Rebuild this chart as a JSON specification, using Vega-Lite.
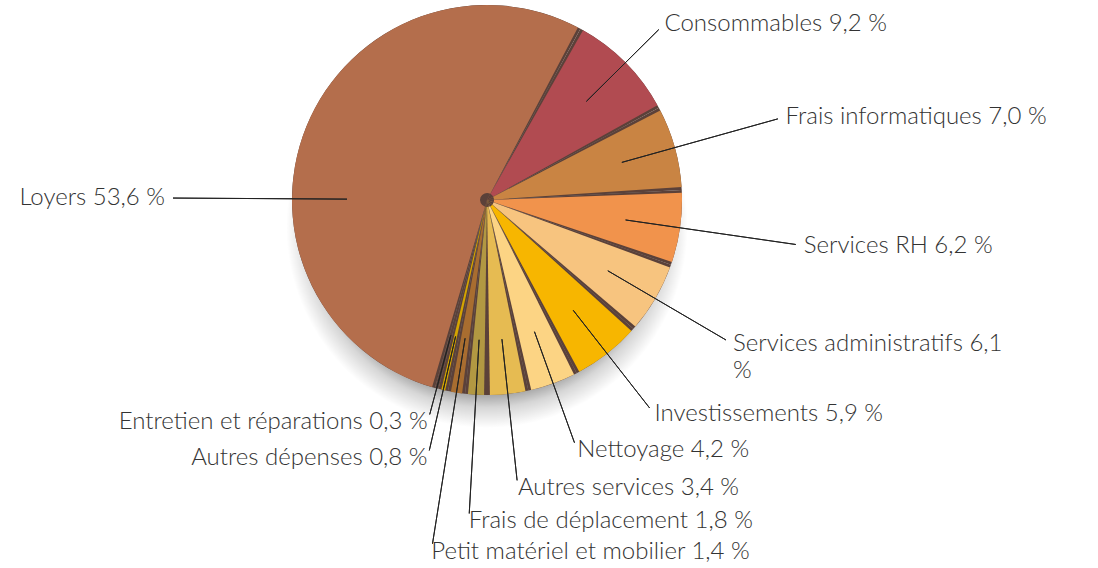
{
  "$schema": "https://vega.github.io/schema/vega-lite/v6.json",
  "width": 974,
  "height": 400,
  "autosize": "none",
  "padding": {"left": 0, "top": 0, "right": 124, "bottom": 168},
  "background": "white",
  "config": {"view": {"stroke": null}},
  "data": {
    "values": [
      {"label": "Consommables", "value": 9.2, "order": 1, "txt": "Consommables 9,2 %"},
      {"label": "Frais informatiques", "value": 7.0, "order": 2, "txt": "Frais informatiques 7,0 %"},
      {"label": "Services RH", "value": 6.2, "order": 3, "txt": "Services RH 6,2 %"},
      {"label": "Services administratifs", "value": 6.1, "order": 4, "txt": "Services administratifs 6,1\n%"},
      {"label": "Investissements", "value": 5.9, "order": 5, "txt": "Investissements 5,9 %"},
      {"label": "Nettoyage", "value": 4.2, "order": 6, "txt": "Nettoyage 4,2 %"},
      {"label": "Autres services", "value": 3.4, "order": 7, "txt": "Autres services 3,4 %"},
      {"label": "Frais de déplacement", "value": 1.8, "order": 8, "txt": "Frais de déplacement 1,8 %"},
      {"label": "Petit matériel et mobilier", "value": 1.4, "order": 9, "txt": "Petit matériel et mobilier 1,4 %"},
      {"label": "Autres dépenses", "value": 0.8, "order": 10, "txt": "Autres dépenses 0,8 %"},
      {"label": "Entretien et réparations", "value": 0.3, "order": 11, "txt": "Entretien et réparations 0,3 %"},
      {"label": "Loyers", "value": 53.6, "order": 12, "txt": "Loyers 53,6 %"}
    ]
  },
  "layer": [
    {
      "transform": [{"aggregate": [{"op": "sum", "field": "value", "as": "total"}]}],
      "mark": {
        "type": "arc", "outerRadius": 228,
        "fill": {"gradient": "radial", "x1": 0.5, "y1": 0.56, "r1": 0, "x2": 0.5, "y2": 0.56, "r2": 0.5,
          "stops": [{"offset": 0, "color": "#8a8a8a"}, {"offset": 0.7, "color": "#8a8a8a"}, {"offset": 0.79, "color": "#d6d6d6"}, {"offset": 0.88, "color": "#ffffff"}, {"offset": 1, "color": "#ffffff"}]}
      },
      "encoding": {
        "theta": {"field": "total", "type": "quantitative", "stack": true, "scale": {"range": [0.5, 6.783185], "nice": false}}
      }
    },
    {
      "mark": {"type": "arc", "outerRadius": 195, "fill": "#5b4139"},
      "encoding": {
        "theta": {"field": "value", "type": "quantitative", "stack": true, "scale": {"range": [0.5, 6.783185], "nice": false}},
        "order": {"field": "order", "type": "quantitative"}
      }
    },
    {
      "mark": {"type": "arc", "outerRadius": 195, "padAngle": 0.03},
      "encoding": {
        "theta": {"field": "value", "type": "quantitative", "stack": true},
        "order": {"field": "order", "type": "quantitative"},
        "color": {
          "field": "label", "type": "nominal", "legend": null,
          "scale": {
            "domain": ["Consommables", "Frais informatiques", "Services RH", "Services administratifs", "Investissements", "Nettoyage", "Autres services", "Frais de déplacement", "Petit matériel et mobilier", "Autres dépenses", "Entretien et réparations", "Loyers"],
            "range": ["#b14b51", "#c98443", "#f1934c", "#f7c47f", "#f7b600", "#fcd484", "#e6bb52", "#b29842", "#a86d30", "#d4a400", "#a55d3a", "#b46e4c"]
          }
        }
      }
    },
    {
      "mark": {"type": "arc", "outerRadius": 7, "fill": "#5b4139"},
      "encoding": {
        "theta": {"field": "value", "type": "quantitative", "stack": true},
        "order": {"field": "order", "type": "quantitative"}
      }
    },
    {
      "transform": [
        {"stack": "value", "groupby": [], "sort": [{"field": "order", "order": "ascending"}], "as": ["s", "e"]},
        {"fold": ["s", "e"], "as": ["k", "v"]},
        {"aggregate": [{"op": "mean", "field": "v", "as": "mid"}], "groupby": ["label", "order", "txt"]}
      ],
      "layer": [
        {
          "transform": [{"filter": "datum.order < 12"}],
          "mark": {"type": "arc", "radiusOffset": -8, "fillOpacity": 0, "stroke": "#222222", "strokeWidth": 1},
          "encoding": {
            "theta": {"field": "mid", "type": "quantitative"},
            "theta2": {"field": "mid"},
            "radius": {"field": "order", "type": "quantitative", "scale": {"type": "linear", "zero": false, "nice": false, "domain": [1, 2, 3, 4, 5, 6, 7, 8, 9, 10, 11, 12], "range": [250, 310, 320, 285, 272, 266, 290, 322, 356, 265, 230, 322]}},
            "radius2": {"value": 140}
          }
        },
        {
          "transform": [{"filter": "datum.order == 12"}],
          "mark": {"type": "arc", "radiusOffset": -8, "thetaOffset": -0.379, "theta2Offset": -0.379, "fillOpacity": 0, "stroke": "#222222", "strokeWidth": 1},
          "encoding": {
            "theta": {"field": "mid", "type": "quantitative"},
            "theta2": {"field": "mid"},
            "radius": {"field": "order", "type": "quantitative"},
            "radius2": {"value": 140}
          }
        },
        {
          "transform": [{"filter": "datum.order < 10"}],
          "mark": {"type": "text", "align": "left", "baseline": "middle", "font": "Lato", "fontWeight": 300, "fontSize": 24, "fill": "#333333", "lineBreak": "\n", "lineHeight": 27},
          "encoding": {
            "theta": {"field": "mid", "type": "quantitative"},
            "radius": {"field": "order", "type": "quantitative"},
            "text": {"field": "txt"}
          }
        },
        {
          "transform": [{"filter": "datum.order >= 10 && datum.order < 12"}],
          "mark": {"type": "text", "align": "right", "baseline": "middle", "font": "Lato", "fontWeight": 300, "fontSize": 24, "fill": "#333333"},
          "encoding": {
            "theta": {"field": "mid", "type": "quantitative"},
            "radius": {"field": "order", "type": "quantitative"},
            "text": {"field": "txt"}
          }
        },
        {
          "transform": [{"filter": "datum.order == 12"}],
          "mark": {"type": "text", "align": "right", "baseline": "middle", "thetaOffset": -0.379, "font": "Lato", "fontWeight": 300, "fontSize": 24, "fill": "#333333"},
          "encoding": {
            "theta": {"field": "mid", "type": "quantitative"},
            "radius": {"field": "order", "type": "quantitative"},
            "text": {"field": "txt"}
          }
        }
      ]
    }
  ]
}
